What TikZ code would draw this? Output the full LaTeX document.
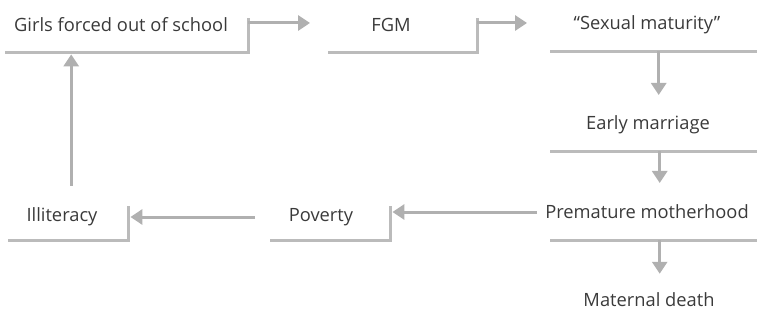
\documentclass[tikz,border=0pt]{standalone}
\usepackage{fontspec}
\setmainfont{Open Sans}
\usetikzlibrary{arrows.meta}
\definecolor{txt}{HTML}{3A3A3A}
\definecolor{rl}{HTML}{BBBBBB}
\definecolor{ar}{HTML}{B0B0B0}
\begin{document}
\begin{tikzpicture}[x=1pt,y=-1pt,
  lbl/.style={font=\fontsize{18.3}{20}\selectfont, text=txt, inner sep=0pt},
  box/.style={draw=none, inner sep=0pt, anchor=north west},
  rule/.style={draw=rl, line width=2.4pt},
  arr/.style={draw=ar, line width=3pt, -{Triangle[width=15pt,length=12pt]}}]
\useasboundingbox (0,0) rectangle (757,323);
% boxes (geometry)
\node[box, minimum width=243pt, minimum height=34pt] (gB) at (5,18) {};
\node[box, minimum width=149pt, minimum height=34pt] (fB) at (328,18) {};
\node[box, minimum width=207pt, minimum height=33pt] (sB) at (550,18) {};
\node[box, minimum width=207pt, minimum height=36pt] (eB) at (550,115) {};
\node[box, minimum width=207pt, minimum height=35pt] (pB) at (550,205) {};
\node[box, minimum width=120pt, minimum height=34pt] (iB) at (8,206) {};
\node[box, minimum width=120pt, minimum height=34pt] (vB) at (270,206) {};
% labels
\node[lbl] (gT) at (121,25) {Girls forced out of school};
\node[lbl] (fT) at (391,25) {FGM};
\node[lbl] (sT) at (647,25) {“Sexual maturity”};
\node[lbl] (eT) at (648,125) {Early marriage};
\node[lbl] (pT) at (647,212) {Premature motherhood};
\node[lbl] (mT) at (649,300) {Maternal death};
\node[lbl] (iT) at (62,217) {Illiteracy};
\node[lbl] (vT) at (321,217) {Poverty};
% brackets
\draw[rule] (gB.south west) -- (gB.south east) -- (gB.north east);
\draw[rule] (fB.south west) -- (fB.south east) -- (fB.north east);
\draw[rule] (sB.south west) -- (sB.south east);
\draw[rule] (eB.south west) -- (eB.south east);
\draw[rule] (pB.south west) -- (pB.south east);
\draw[rule] (iB.south west) -- (iB.south east) -- (iB.north east);
\draw[rule] (vB.south west) -- (vB.south east) -- (vB.north east);
% arrows
\draw[arr, shorten >=18pt] ([yshift=-5pt]gB.north east) -- ([yshift=-5pt]fB.north west);
\draw[arr, shorten >=23pt] ([yshift=-5pt]fB.north east) -- ([yshift=-5pt]sB.north west);
\draw[arr, shorten >=20pt] ([xshift=5pt]sB.south) -- ([xshift=5pt]eB.north);
\draw[arr, shorten >=22pt] ([xshift=6pt]eB.south) -- ([xshift=6pt]pB.north);
\draw[arr, shorten >=19pt] ([xshift=6pt]pB.south) -- ([xshift=6pt]pB.south |- mT.north);
\draw[arr, shorten <=8pt, shorten >=2pt] (pT.west) -- (pT.west -| vB.east);
\draw[arr, shorten <=15pt, shorten >=2pt] (vT.west -| vB.west) -- (vT.west -| iB.east);
\draw[arr, shorten <=20pt, shorten >=2pt] ([xshift=3pt]iB.north) -- ([xshift=3pt]iB.north |- gB.south);
\end{tikzpicture}
\end{document}
